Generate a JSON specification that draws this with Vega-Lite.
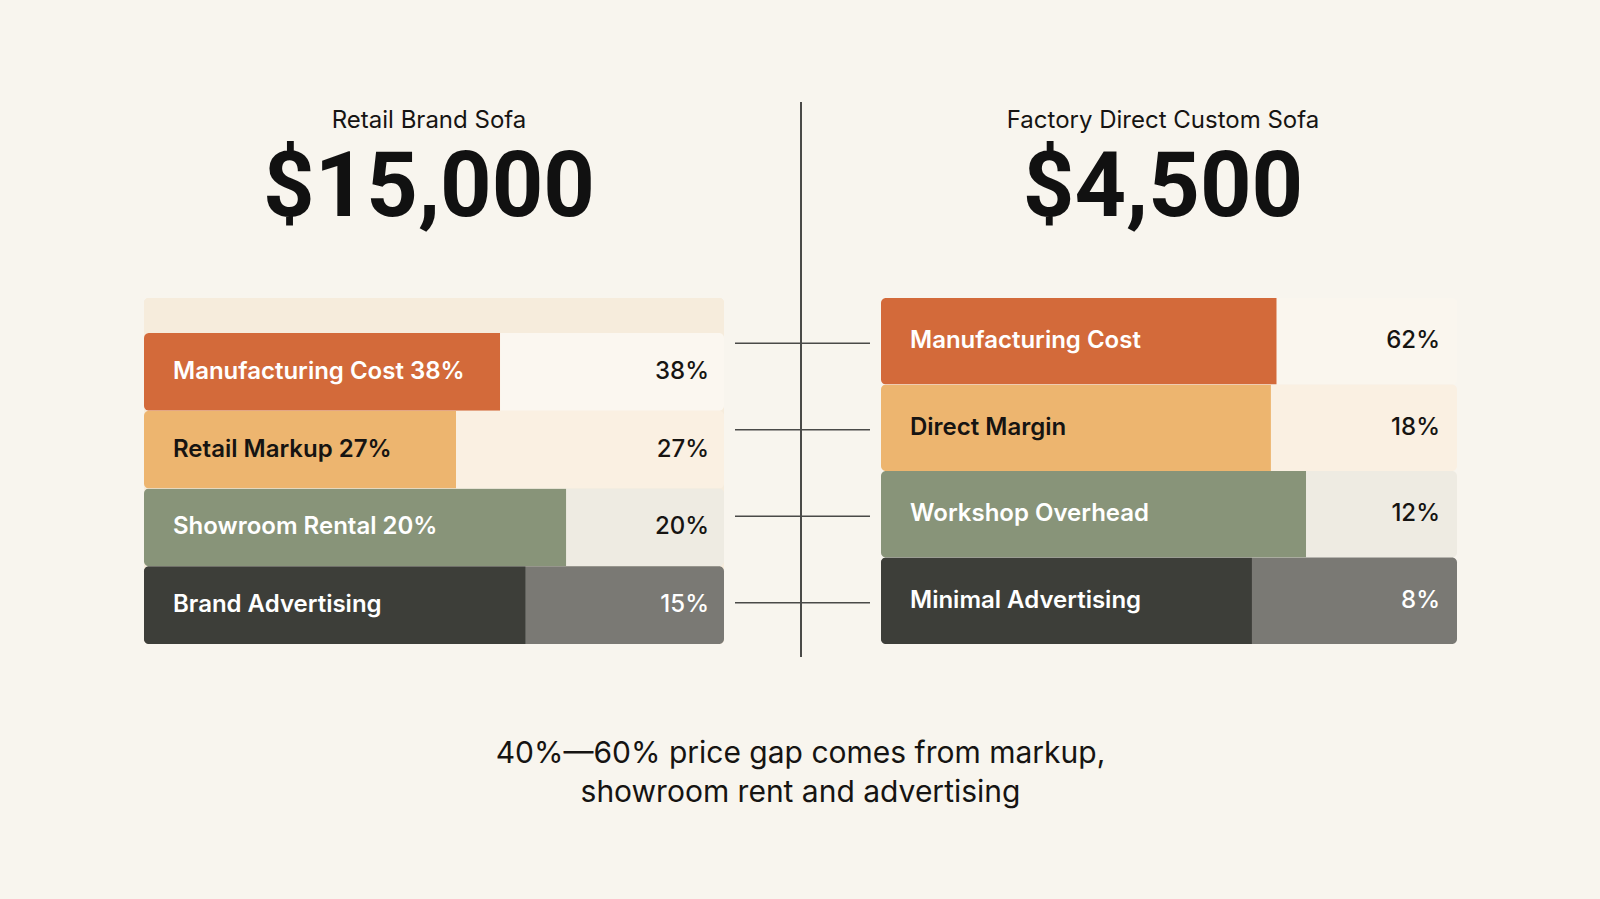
{
  "$schema": "https://vega.github.io/schema/vega-lite/v6.json",
  "background": "#f8f5ee",
  "padding": {"left": 144, "top": 101, "right": 144, "bottom": 92},
  "config": {"view": {"stroke": null}},
  "title": {
    "text": ["40%—60% price gap comes from markup,", "showroom rent and advertising"],
    "orient": "bottom",
    "anchor": "middle",
    "font": "Inter",
    "fontSize": 30,
    "fontWeight": 400,
    "lineHeight": 39,
    "color": "#161412",
    "offset": 81
  },
  "datasets": {
    "retail": [
      {"rank": 1, "label": "Manufacturing Cost 38%", "share": 0.38, "bar": 61.4},
      {"rank": 2, "label": "Retail Markup 27%", "share": 0.27, "bar": 53.8},
      {"rank": 3, "label": "Showroom Rental 20%", "share": 0.20, "bar": 72.8},
      {"rank": 4, "label": "Brand Advertising", "share": 0.15, "bar": 65.8}
    ],
    "factory": [
      {"rank": 1, "label": "Manufacturing Cost", "share": 0.62, "bar": 68.7},
      {"rank": 2, "label": "Direct Margin", "share": 0.18, "bar": 67.7},
      {"rank": 3, "label": "Workshop Overhead", "share": 0.12, "bar": 73.8},
      {"rank": 4, "label": "Minimal Advertising", "share": 0.08, "bar": 64.4}
    ],
    "links": [{"rank": 1}, {"rank": 2}, {"rank": 3}, {"rank": 4}]
  },
  "spacing": 10,
  "bounds": "full",
  "resolve": {"scale": {"x": "independent", "y": "independent", "color": "independent"}},
  "hconcat": [
    {
      "width": 580,
      "height": 346,
      "data": {"name": "retail"},
      "title": {
        "text": "Retail Brand Sofa",
        "subtitle": "$15,000",
        "anchor": "middle",
        "dx": -5,
        "font": "Inter",
        "fontSize": 24,
        "fontWeight": 400,
        "color": "#161412",
        "subtitleFont": "Roboto",
        "subtitleFontSize": 90,
        "subtitleFontWeight": 700,
        "subtitleColor": "#111111",
        "subtitlePadding": 12,
        "offset": 64
      },
      "resolve": {"scale": {"color": "independent"}},
      "layer": [
        {
          "mark": {"type": "rect", "color": "#f6ecdc", "cornerRadius": 5},
          "encoding": {
            "x": {"datum": 0, "type": "quantitative", "scale": {"domain": [0, 100]}, "axis": null},
            "x2": {"datum": 100}
          }
        },
        {
          "mark": {"type": "bar", "cornerRadius": 5},
          "encoding": {
            "y": {"field": "rank", "type": "ordinal", "axis": null, "scale": {"paddingInner": 0, "paddingOuter": 0.225, "align": 1}},
            "x": {"datum": 0, "type": "quantitative"},
            "x2": {"datum": 100},
            "color": {"field": "rank", "type": "ordinal", "legend": null, "scale": {"domain": [1, 2, 3, 4], "range": ["#fbf7f0", "#faf0e2", "#eeebe2", "#7a7974"]}}
          }
        },
        {
          "mark": {"type": "bar", "cornerRadiusTopLeft": 5, "cornerRadiusBottomLeft": 5},
          "encoding": {
            "y": {"field": "rank", "type": "ordinal", "axis": null},
            "x": {"field": "bar", "type": "quantitative"},
            "color": {"field": "rank", "type": "ordinal", "legend": null, "scale": {"domain": [1, 2, 3, 4], "range": ["#d36a3a", "#edb56f", "#889479", "#3d3e39"]}}
          }
        },
        {
          "mark": {"type": "text", "align": "left", "baseline": "middle", "dx": 29, "font": "Inter", "fontSize": 24, "fontWeight": 600},
          "encoding": {
            "y": {"field": "rank", "type": "ordinal", "axis": null},
            "x": {"datum": 0, "type": "quantitative"},
            "text": {"field": "label"},
            "color": {"condition": {"test": "datum.rank === 2", "value": "#161412"}, "value": "#ffffff"}
          }
        },
        {
          "mark": {"type": "text", "align": "right", "baseline": "middle", "dx": -15, "font": "Inter", "fontSize": 24, "fontWeight": 500},
          "encoding": {
            "y": {"field": "rank", "type": "ordinal", "axis": null},
            "x": {"datum": 100, "type": "quantitative"},
            "text": {"field": "share", "format": ".0%"},
            "color": {"condition": {"test": "datum.rank === 4", "value": "#ffffff"}, "value": "#161412"}
          }
        }
      ]
    },
    {
      "width": 135,
      "height": 359,
      "data": {"name": "links"},
      "layer": [
        {
          "mark": {"type": "rule", "color": "#4a4a48", "strokeWidth": 1.5, "yOffset": -196},
          "encoding": {
            "x": {"datum": 0.489, "type": "quantitative", "scale": {"domain": [0, 1]}, "axis": null}
          }
        },
        {
          "mark": {"type": "rule", "color": "#4a4a48", "strokeWidth": 1.5, "yOffset": 2},
          "encoding": {
            "y": {"field": "rank", "type": "ordinal", "axis": null, "scale": {"paddingInner": 0, "paddingOuter": 0.0751, "align": 0}}
          }
        }
      ]
    },
    {
      "width": 576,
      "height": 346,
      "data": {"name": "factory"},
      "title": {
        "text": "Factory Direct Custom Sofa",
        "subtitle": "$4,500",
        "anchor": "middle",
        "dx": -6,
        "font": "Inter",
        "fontSize": 24,
        "fontWeight": 400,
        "color": "#161412",
        "subtitleFont": "Roboto",
        "subtitleFontSize": 90,
        "subtitleFontWeight": 700,
        "subtitleColor": "#111111",
        "subtitlePadding": 12,
        "offset": 64
      },
      "resolve": {"scale": {"color": "independent"}},
      "layer": [
        {
          "mark": {"type": "bar", "cornerRadius": 5},
          "encoding": {
            "y": {"field": "rank", "type": "ordinal", "axis": null, "scale": {"paddingInner": 0, "paddingOuter": 0}},
            "x": {"datum": 0, "type": "quantitative", "scale": {"domain": [0, 100]}, "axis": null},
            "x2": {"datum": 100},
            "color": {"field": "rank", "type": "ordinal", "legend": null, "scale": {"domain": [1, 2, 3, 4], "range": ["#faf6ee", "#faf0e2", "#eeebe2", "#7a7974"]}}
          }
        },
        {
          "mark": {"type": "bar", "cornerRadiusTopLeft": 5, "cornerRadiusBottomLeft": 5},
          "encoding": {
            "y": {"field": "rank", "type": "ordinal", "axis": null},
            "x": {"field": "bar", "type": "quantitative"},
            "color": {"field": "rank", "type": "ordinal", "legend": null, "scale": {"domain": [1, 2, 3, 4], "range": ["#d36a3a", "#edb56f", "#889479", "#3d3e39"]}}
          }
        },
        {
          "mark": {"type": "text", "align": "left", "baseline": "middle", "dx": 29, "font": "Inter", "fontSize": 24, "fontWeight": 600},
          "encoding": {
            "y": {"field": "rank", "type": "ordinal", "axis": null},
            "x": {"datum": 0, "type": "quantitative"},
            "text": {"field": "label"},
            "color": {"condition": {"test": "datum.rank === 2", "value": "#161412"}, "value": "#ffffff"}
          }
        },
        {
          "mark": {"type": "text", "align": "right", "baseline": "middle", "dx": -17, "font": "Inter", "fontSize": 24, "fontWeight": 500},
          "encoding": {
            "y": {"field": "rank", "type": "ordinal", "axis": null},
            "x": {"datum": 100, "type": "quantitative"},
            "text": {"field": "share", "format": ".0%"},
            "color": {"condition": {"test": "datum.rank === 4", "value": "#ffffff"}, "value": "#161412"}
          }
        }
      ]
    }
  ]
}
